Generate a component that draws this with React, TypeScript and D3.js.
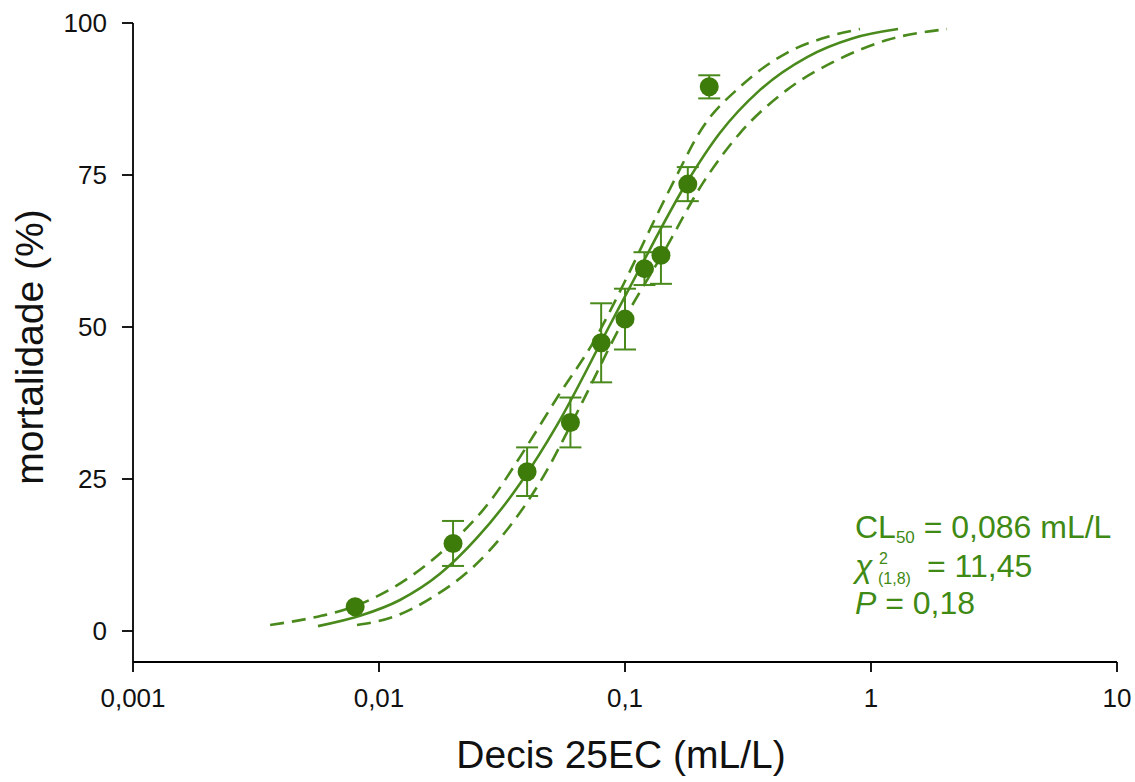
import React from 'react';
import * as d3 from 'd3';

// observed mortality (mean and error) per dose
const doses = [0.008, 0.02, 0.04, 0.06, 0.08, 0.1, 0.12, 0.14, 0.18, 0.22];
const mortality = [4.0, 14.4, 26.2, 34.3, 47.4, 51.3, 59.6, 61.8, 73.5, 89.5];
const errors = [0, 3.7, 4.0, 4.1, 6.5, 5.0, 2.7, 4.7, 2.8, 1.9];

// fitted curve
const fitDose = [0.00565, 0.00837, 0.01217, 0.0177, 0.025, 0.0374, 0.053, 0.086, 0.112, 0.1786, 0.243, 0.354, 0.55, 0.845, 1.288];
const fitMort = [0.8, 2.5, 5.1, 9.4, 15.3, 24.2, 33.9, 50, 58.8, 73.8, 81.9, 89.0, 94.4, 97.5, 99.0];

// confidence limits
const upperDose = [0.00361, 0.00524, 0.00799, 0.01337, 0.0189, 0.0291, 0.0374, 0.0544, 0.0741, 0.1019, 0.13, 0.1567, 0.2075, 0.2935, 0.4556, 0.662, 0.902];
const upperMort = [1.0, 2.1, 4.1, 8.9, 13.8, 22.0, 28.6, 39.1, 47.4, 58.2, 67.1, 73.7, 82.9, 89.5, 95.1, 97.7, 99.0];
const lowerDose = [0.00814, 0.0114, 0.01658, 0.0241, 0.0331, 0.0464, 0.0638, 0.0954, 0.1454, 0.2075, 0.2935, 0.4556, 0.728, 1.162, 2.037];
const lowerMort = [1.0, 2.3, 5.6, 10.5, 16.6, 25.3, 35.9, 50.0, 62.7, 73.7, 81.9, 89.0, 93.9, 97.2, 99.0];

const xTicks = [0.001, 0.01, 0.1, 1, 10];
const xTickLabels = ['0,001', '0,01', '0,1', '1', '10'];
const yTicks = [0, 25, 50, 75, 100];

const GREEN = '#4a8a1c';
const DOT = '#3d7c0a';
const FONT = '"Liberation Sans", Arial, sans-serif';

const App = () => {
  const x = d3.scaleLog().domain([0.001, 10]).range([133, 1117]);
  const y = d3.scaleLinear().domain([0, 100]).range([631, 23]);
  const axisY = 662;

  const line = d3
    .line<[number, number]>()
    .x((d) => x(d[0]))
    .y((d) => y(d[1]))
    .curve(d3.curveMonotoneX);

  const zip = (a: number[], b: number[]) => a.map((v, i) => [v, b[i]] as [number, number]);

  return (
    <svg width={1135} height={782} style={{ position: 'absolute', left: 0, top: 0, background: '#fff' }} fontFamily={FONT}>
      {/* axes */}
      <line x1={133} x2={133} y1={y(100)} y2={axisY} stroke="#000" strokeWidth={1.8} />
      <line x1={133} x2={1117} y1={axisY} y2={axisY} stroke="#000" strokeWidth={1.8} />
      {yTicks.map((t) => (
        <g key={t}>
          <line x1={122} x2={133} y1={y(t)} y2={y(t)} stroke="#000" strokeWidth={1.8} />
          <text x={107} y={y(t) + 9} textAnchor="end" fontSize={26} fill="#111">
            {t}
          </text>
        </g>
      ))}
      {xTicks.map((t, i) => (
        <g key={t}>
          <line x1={x(t)} x2={x(t)} y1={axisY} y2={axisY + 10} stroke="#000" strokeWidth={1.8} />
          <text x={x(t)} y={707} textAnchor="middle" fontSize={26} fill="#111">
            {xTickLabels[i]}
          </text>
        </g>
      ))}

      {/* axis titles */}
      <text x={621} y={768} textAnchor="middle" fontSize={39} fill="#111">
        Decis 25EC (mL/L)
      </text>
      <text transform="translate(43,347) rotate(-90)" textAnchor="middle" fontSize={39} fill="#111">
        mortalidade (%)
      </text>

      {/* curves */}
      <path d={line(zip(fitDose, fitMort)) || ''} fill="none" stroke={GREEN} strokeWidth={2.6} />
      <path d={line(zip(upperDose, upperMort)) || ''} fill="none" stroke={GREEN} strokeWidth={2.6} strokeDasharray="14,8" />
      <path d={line(zip(lowerDose, lowerMort)) || ''} fill="none" stroke={GREEN} strokeWidth={2.6} strokeDasharray="14,8" />

      {/* error bars and points */}
      {doses.map((d, i) => {
        const cx = x(d);
        const top = y(mortality[i] + errors[i]);
        const bot = y(mortality[i] - errors[i]);
        return (
          <g key={d}>
            {errors[i] > 0 && (
              <g stroke={GREEN} strokeWidth={2}>
                <line x1={cx} x2={cx} y1={top} y2={bot} />
                <line x1={cx - 11} x2={cx + 11} y1={top} y2={top} />
                <line x1={cx - 11} x2={cx + 11} y1={bot} y2={bot} />
              </g>
            )}
            <circle cx={cx} cy={y(mortality[i])} r={9.5} fill={DOT} />
          </g>
        );
      })}

      {/* statistics */}
      <g fill="#3f8a14" fontSize={32}>
        <text x={855} y={538}>
          CL
          <tspan fontSize={17} dy={5}>50</tspan>
          <tspan dy={-5}> = 0,086 mL/L</tspan>
        </text>
        <text x={855} y={577} fontStyle="italic">χ</text>
        <text x={879} y={564} fontSize={16}>2</text>
        <text x={878} y={584} fontSize={16}>(1,8)</text>
        <text x={927} y={577}>= 11,45</text>
        <text x={855} y={614}>
          <tspan fontStyle="italic">P</tspan> = 0,18
        </text>
      </g>
    </svg>
  );
};

export default App;
